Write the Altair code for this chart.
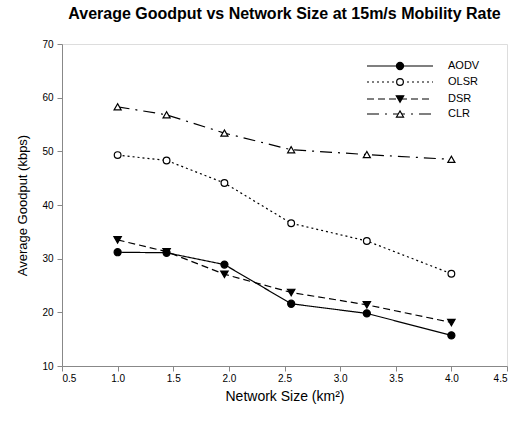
import altair as alt
import pandas as pd

sizes = [1.0, 1.44, 1.96, 2.56, 3.24, 4.0]
aodv = [31.2, 31.1, 28.9, 21.6, 19.8, 15.7]
olsr = [49.3, 48.3, 44.1, 36.6, 33.3, 27.2]
dsr = [33.5, 31.3, 27.1, 23.7, 21.4, 18.1]
clr = [58.3, 56.8, 53.4, 50.3, 49.4, 48.5]

series_names = ["AODV", "OLSR", "DSR", "CLR"]
series_vals = [aodv, olsr, dsr, clr]
dashes = [[1, 0], [2, 3], [7, 4], [12, 6, 2, 6]]
shapes = ["circle", "circle", "triangle-down", "triangle-up"]
fills = ["black", "white", "black", "white"]
msizes = [50, 45, 55, 50]
legend_y = [22, 38, 55, 70]

FONT = "Liberation Sans"

rows = []
for name, vals in zip(series_names, series_vals):
    for s, v in zip(sizes, vals):
        rows.append({"series": name, "size": s, "goodput": v})
df = pd.DataFrame(rows)

xscale = alt.Scale(domain=[0.5, 4.5], nice=False, zero=False)
yscale = alt.Scale(domain=[10, 70], nice=False, zero=False)
xaxis = alt.Axis(
    title="Network Size (km²)", values=[0.5, 1.0, 1.5, 2.0, 2.5, 3.0, 3.5, 4.0, 4.5],
    format=".1f", grid=False, tickSize=5, labelPadding=2, titlePadding=6,
    titleFontWeight="normal", titleFontSize=14, titleFont=FONT,
)
yaxis = alt.Axis(
    title="Average Goodput (kbps)", values=[10, 20, 30, 40, 50, 60, 70],
    grid=False, tickSize=5, labelPadding=4, titlePadding=12,
    titleFontWeight="normal", titleFontSize=13, titleFont=FONT,
)

layers = []
for i, name in enumerate(series_names):
    sub = df[df.series == name]
    base = alt.Chart(sub)
    line = base.mark_line(color="black", strokeWidth=1.2, strokeDash=dashes[i]).encode(
        x=alt.X("size:Q", scale=xscale, axis=xaxis),
        y=alt.Y("goodput:Q", scale=yscale, axis=yaxis),
    )
    pts = base.mark_point(
        shape=shapes[i], filled=True, fill=fills[i], stroke="black",
        strokeWidth=1.2, size=msizes[i], opacity=1,
    ).encode(x=alt.X("size:Q", scale=xscale), y=alt.Y("goodput:Q", scale=yscale))
    layers += [line, pts]

    leg = alt.Chart(pd.DataFrame({"label": [name]}))
    layers.append(leg.mark_rule(color="black", strokeWidth=1.2, strokeDash=dashes[i]).encode(
        x=alt.value(305), x2=alt.value(371), y=alt.value(legend_y[i])))
    layers.append(leg.mark_point(
        shape=shapes[i], filled=True, fill=fills[i], stroke="black",
        strokeWidth=1.2, size=msizes[i], opacity=1,
    ).encode(x=alt.value(338), y=alt.value(legend_y[i])))
    layers.append(leg.mark_text(font=FONT, fontSize=11, align="left", baseline="middle", color="black").encode(
        x=alt.value(386), y=alt.value(legend_y[i]), text="label:N"))

chart = alt.layer(*layers).properties(
    width=445, height=322,
    title=alt.TitleParams(
        "Average Goodput vs Network Size at 15m/s Mobility Rate",
        font=FONT, fontSize=16, fontWeight="bold", color="black", offset=17,
    ),
    autosize=alt.AutoSizeParams(type="none"),
    padding={"left": 62, "top": 44, "right": 15, "bottom": 58},
).configure_view(stroke="black", strokeWidth=1.2).configure_axis(
    labelFont=FONT, titleFont=FONT, labelFontSize=11, titleFontSize=13,
    titleFontWeight="normal", labelColor="black", titleColor="black",
    domainColor="black", tickColor="black", domainWidth=1.2,
).configure(background="white")

chart.save("out.html", embed_options={"renderer": "svg", "actions": False})
